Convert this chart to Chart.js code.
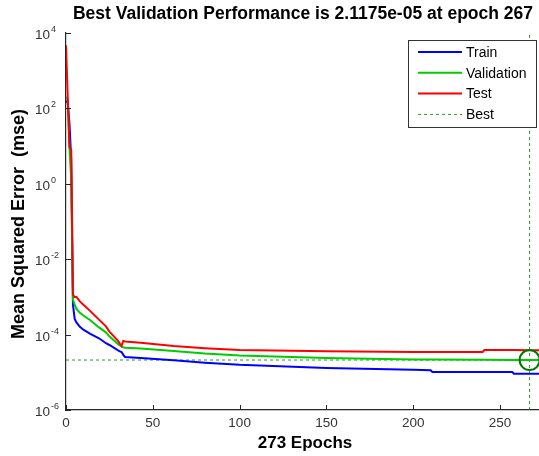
<!DOCTYPE html>
<html><head><meta charset="utf-8">
<script src="https://cdn.jsdelivr.net/npm/chart.js@4.4.1/dist/chart.umd.min.js"></script>
<style>
html,body{margin:0;padding:0;overflow:hidden;background:#fff;width:539px;height:456px}
#wrap{position:absolute;left:0;top:0;width:552px;height:456px}
</style></head><body><div id="wrap"><canvas id="c" width="552" height="456"></canvas></div>
<script>
const epochs   = [0, 1, 2, 3, 4, 5, 6, 8, 10, 14, 19, 23, 25, 30, 31, 32, 33, 34, 43, 62, 80, 100, 150, 200, 210, 211, 240, 241, 257, 258, 267, 273];
const trainMse = [160, 140, 40, 4.5, 6.2e-4, 2.6e-4, 2.1e-4, 1.6e-4, 1.35e-4, 1.05e-4, 8.0e-5, 5.9e-5, 5.3e-5, 3.8e-5, 3.6e-5, 3.45e-5, 2.9e-5, 2.55e-5, 2.4e-5, 2.1e-5, 1.8e-5, 1.58e-5, 1.31e-5, 1.16e-5, 1.135e-5, 1.02e-5, 1.02e-5, 1.02e-5, 1.02e-5, 9.2e-6, 9.2e-6, 9.2e-6];
const valMse   = [200, 180, 9, 1.3, 8.5e-4, 6.2e-4, 4.8e-4, 3.8e-4, 3.2e-4, 2.4e-4, 1.55e-4, 1.15e-4, 9.0e-5, 5.6e-5, 5.2e-5, 4.8e-5, 4.6e-5, 4.5e-5, 4.3e-5, 3.7e-5, 3.15e-5, 2.8e-5, 2.4e-5, 2.2e-5, 2.18e-5, 2.18e-5, 2.14e-5, 2.14e-5, 2.13e-5, 2.13e-5, 2.1175e-5, 2.1175e-5];
const testMse  = [4700, 195, 9.2, 8, 1.14e-3, 1.0e-3, 1.0e-3, 7.6e-4, 6.2e-4, 4.2e-4, 2.5e-4, 1.65e-4, 1.2e-4, 6.8e-5, 5.8e-5, 5.0e-5, 6.8e-5, 6.6e-5, 6.1e-5, 5.0e-5, 4.35e-5, 3.9e-5, 3.6e-5, 3.47e-5, 3.47e-5, 3.47e-5, 3.47e-5, 3.9e-5, 3.9e-5, 3.9e-5, 3.85e-5, 3.85e-5];
const bestEpoch = 267;
const bestPerf = 2.1175e-5;
const totalEpochs = 273;
const yMin = 1e-6, yMax = 1e4;
const xTicks = [0, 50, 100, 150, 200, 250];
const yTicks = [1e-6, 1e-4, 1e-2, 1e0, 1e2, 1e4];
const yTickExp = ['-6', '-4', '-2', '0', '2', '4'];
const titleText = 'Best Validation Performance is 2.1175e-05 at epoch 267';
const xTitle = '273 Epochs';
const yTitle = 'Mean Squared Error  (mse)';
const legendLabels = ['Train', 'Validation', 'Test', 'Best'];

const FONT = '"Liberation Sans", Arial, sans-serif';
const AX = '#262626';
const GREEN_DASH = 'rgba(0,140,0,0.85)';

function pts(ys){ return epochs.map((e,i)=>({x:e,y:ys[i]})); }

const datasets = [
  {label:'bestCircle', data:[{x:bestEpoch,y:bestPerf}], showLine:false, pointRadius:10, pointHoverRadius:10, pointBorderWidth:2, pointBorderColor:'#007a00', pointBackgroundColor:'rgba(0,0,0,0)', borderColor:'#007a00'},
  {label:legendLabels[2], data:pts(testMse), borderColor:'#ff0000', borderWidth:2, pointRadius:0, tension:0},
  {label:legendLabels[1], data:pts(valMse), borderColor:'#00cc00', borderWidth:2, pointRadius:0, tension:0},
  {label:legendLabels[0], data:pts(trainMse), borderColor:'#0000ff', borderWidth:2, pointRadius:0, tension:0},
  {label:'bestH', data:[{x:0,y:bestPerf},{x:totalEpochs,y:bestPerf}], borderColor:GREEN_DASH, borderWidth:1, borderDash:[3,3], pointRadius:0},
  {label:legendLabels[3], data:[{x:bestEpoch,y:yMin},{x:bestEpoch,y:yMax}], borderColor:GREEN_DASH, borderWidth:1, borderDash:[3,3], pointRadius:0}
];

const decor = {
  id:'decor',
  afterDraw(chart){
    const ctx = chart.ctx, ca = chart.chartArea;
    const xs = chart.scales.x, ys = chart.scales.y;
    ctx.save();
    ctx.strokeStyle = AX; ctx.lineWidth = 1;
    xTicks.forEach(v=>{ const px = Math.round(xs.getPixelForValue(v))+0.5; ctx.beginPath(); ctx.moveTo(px, ca.bottom); ctx.lineTo(px, ca.bottom-5); ctx.stroke(); });
    yTicks.forEach(v=>{ const py = Math.round(ys.getPixelForValue(v))+0.5; ctx.beginPath(); ctx.moveTo(ca.left, py); ctx.lineTo(ca.left+5, py); ctx.stroke(); });
    ctx.fillStyle = '#333';
    ctx.font = '13.5px ' + FONT; ctx.textAlign = 'center'; ctx.textBaseline = 'top';
    xTicks.forEach(v=>{ ctx.fillText(String(v), xs.getPixelForValue(v), ca.bottom+7); });
    yTicks.forEach((v,i)=>{
      const py = ys.getPixelForValue(v);
      ctx.font = '13.5px ' + FONT; ctx.textAlign = 'right'; ctx.textBaseline = 'alphabetic';
      ctx.fillText('10', 50, py+6);
      ctx.font = '9px ' + FONT; ctx.textAlign = 'left';
      ctx.fillText(yTickExp[i], 51, py-1);
    });
    ctx.fillStyle = '#000';
    ctx.font = 'bold 17.5px ' + FONT; ctx.textAlign = 'center'; ctx.textBaseline = 'middle';
    ctx.fillText(titleText, 303, 14);
    ctx.font = 'bold 17px ' + FONT;
    ctx.fillText(xTitle, 305, 443);
    ctx.font = 'bold 18px ' + FONT;
    ctx.save(); ctx.translate(19, 224); ctx.rotate(-Math.PI/2);
    ctx.fillText(yTitle, 0, 0); ctx.restore();
    const lx = 408.5, ly = 40.5, lw = 128, lh = 87;
    ctx.fillStyle = '#fff'; ctx.fillRect(lx, ly, lw, lh);
    ctx.strokeStyle = '#333'; ctx.lineWidth = 1; ctx.strokeRect(lx, ly, lw, lh);
    const order = [3,2,1,5];
    order.forEach((di,i)=>{
      const ds = chart.data.datasets[di];
      const yy = 52 + i*20.8;
      ctx.beginPath(); ctx.strokeStyle = ds.borderColor; ctx.lineWidth = ds.borderWidth;
      ctx.setLineDash(ds.borderDash || []);
      ctx.moveTo(418, yy); ctx.lineTo(462, yy); ctx.stroke(); ctx.setLineDash([]);
      ctx.fillStyle = '#000'; ctx.font = '14px ' + FONT; ctx.textAlign = 'left'; ctx.textBaseline = 'middle';
      ctx.fillText(ds.label, 466, yy+1);
    });
    ctx.restore();
  }
};

new Chart(document.getElementById('c'), {
  type:'line',
  data:{datasets},
  options:{
    responsive:false, animation:false, devicePixelRatio:1,
    layout:{padding:{top:33, right:7, left:0, bottom:0}},
    plugins:{legend:{display:false}, title:{display:false}, tooltip:{enabled:false}},
    scales:{
      x:{type:'linear', min:0, max:totalEpochs,
         afterBuildTicks(s){ s.ticks = xTicks.map(v=>({value:v})); },
         afterFit(s){ s.height = 46; },
         ticks:{display:false}, grid:{display:false},
         border:{display:true, color:AX, width:1.2}},
      y:{type:'logarithmic', min:yMin, max:yMax,
         afterBuildTicks(s){ s.ticks = yTicks.map(v=>({value:v})); },
         afterFit(s){ s.width = 66; },
         ticks:{display:false}, grid:{display:false},
         border:{display:true, color:AX, width:1.2}}
    }
  },
  plugins:[decor]
});
</script></body></html>
